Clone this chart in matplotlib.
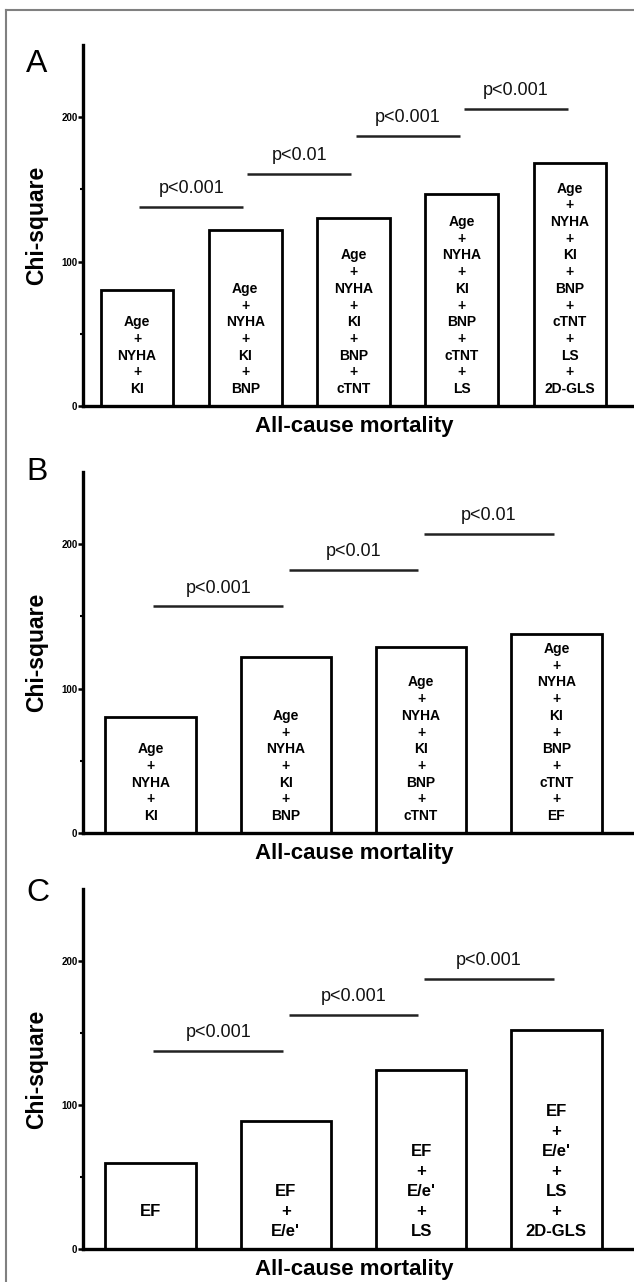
import matplotlib
matplotlib.use('Agg')
import matplotlib.pyplot as plt
from matplotlib.lines import Line2D

plt.rcParams['font.family'] = ['Liberation Sans', 'DejaVu Sans']

# ---- data ----
a_labels = ["Age\n+\nNYHA\n+\nKI",
            "Age\n+\nNYHA\n+\nKI\n+\nBNP",
            "Age\n+\nNYHA\n+\nKI\n+\nBNP\n+\ncTNT",
            "Age\n+\nNYHA\n+\nKI\n+\nBNP\n+\ncTNT\n+\nLS",
            "Age\n+\nNYHA\n+\nKI\n+\nBNP\n+\ncTNT\n+\nLS\n+\n2D-GLS"]
a_values = [80, 122, 130, 146.5, 168]
a_sig_y = [138, 161, 187, 206]
a_sig_txt = ["p<0.001", "p<0.01", "p<0.001", "p<0.001"]

b_labels = ["Age\n+\nNYHA\n+\nKI",
            "Age\n+\nNYHA\n+\nKI\n+\nBNP",
            "Age\n+\nNYHA\n+\nKI\n+\nBNP\n+\ncTNT",
            "Age\n+\nNYHA\n+\nKI\n+\nBNP\n+\ncTNT\n+\nEF"]
b_values = [80, 122, 129, 137.5]
b_sig_y = [157, 182, 207]
b_sig_txt = ["p<0.001", "p<0.01", "p<0.01"]

c_labels = ["EF\n",
            "EF\n+\nE/e'",
            "EF\n+\nE/e'\n+\nLS",
            "EF\n+\nE/e'\n+\nLS\n+\n2D-GLS"]
c_values = [60, 89, 124, 152]
c_sig_y = [137.5, 162.5, 187.5]
c_sig_txt = ["p<0.001", "p<0.001", "p<0.001"]

ytick_vals = [0, 100, 200]
yminor_vals = [50, 150]
xlabel_txt = "All-cause mortality"
ylabel_txt = "Chi-square"

W, H = 634, 1282
fig = plt.figure(figsize=(W / 100, H / 100), dpi=100)


def draw_panel(letter, letter_base, top_px, zero_px, labels, values,
               sig_y, sig_txt, fs, spacing_px):
    n = len(values)
    left_px, right_px = 83, 660
    unit = 541.0 / n
    ax = fig.add_axes([left_px / W, 1 - zero_px / H,
                       (right_px - left_px) / W, (zero_px - top_px) / H])
    ax.set_xlim(-0.5, -0.5 + (right_px - left_px) / unit)
    ax.set_ylim(0, 250)
    xs = list(range(n))
    ax.bar(xs, values, width=0.67, color='white', edgecolor='black',
           linewidth=2.0)

    # text stacked inside the bars
    for i, lab in enumerate(labels):
        lines = lab.split("\n")
        for k, ln in enumerate(reversed(lines)):
            off = (13 + k * spacing_px) * 0.72
            ax.annotate(ln, xy=(i, 0), xytext=(0, off),
                        textcoords='offset points', ha='center',
                        va='baseline', fontsize=fs, fontweight='bold',
                        annotation_clip=False)

    # significance lines
    for i, (y, t) in enumerate(zip(sig_y, sig_txt)):
        ax.plot([i + 0.02, i + 0.98], [y, y], color='#222222', lw=1.8,
                solid_capstyle='butt')
        ax.annotate(t, xy=(i + 0.5, y), xytext=(0, 7),
                    textcoords='offset points', ha='center', va='bottom',
                    fontsize=13, color='#111111')

    for s in ['top', 'right']:
        ax.spines[s].set_visible(False)
    for s in ['left', 'bottom']:
        ax.spines[s].set_linewidth(2.4)
    ax.set_xticks([])
    ax.set_yticks(ytick_vals)
    ax.set_yticklabels([str(v) for v in ytick_vals], fontweight='bold')
    ax.set_yticks(yminor_vals, minor=True)
    ax.tick_params(axis='y', which='major', direction='out', length=3.5,
                   width=1.8, labelsize=7, pad=0.5)
    ax.tick_params(axis='y', which='minor', direction='out', length=2.5,
                   width=1.5)

    fig.text(37 / W, 1 - (top_px + zero_px) / 2 / H, ylabel_txt,
             rotation=90, ha='center', va='center', fontsize=16.5,
             fontweight='bold')
    fig.text(354 / W, 1 - (zero_px + 21) / H, xlabel_txt, ha='center',
             va='center', fontsize=16, fontweight='bold')
    fig.text(26 / W, 1 - letter_base / H, letter, ha='left',
             va='baseline', fontsize=23)
    return ax


draw_panel("A", 72, 45, 406, a_labels, a_values, a_sig_y, a_sig_txt, 10, 16.7)
draw_panel("B", 480, 472, 833, b_labels, b_values, b_sig_y, b_sig_txt, 10, 16.7)
draw_panel("C", 901, 889, 1249, c_labels, c_values, c_sig_y, c_sig_txt, 12, 20)

# partial grey frame (left and top edges)
fig.add_artist(Line2D([6 / W, 6 / W], [0, 1 - 10 / H], color='#808080',
                      lw=1.5, transform=fig.transFigure))
fig.add_artist(Line2D([6 / W, 1], [1 - 10 / H, 1 - 10 / H], color='#808080',
                      lw=1.5, transform=fig.transFigure))

fig.savefig('out.png', dpi=100)
